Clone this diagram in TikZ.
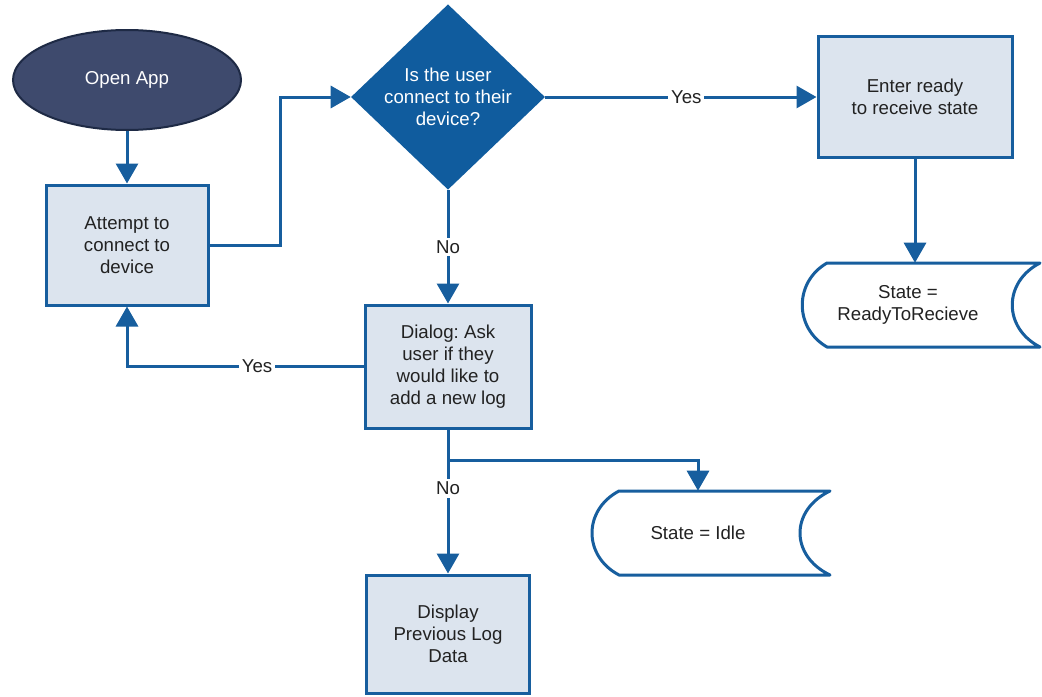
\documentclass[tikz,border=0pt]{standalone}
\usepackage{fontspec}
\setmainfont{Liberation Sans}
\usetikzlibrary{shapes.geometric,arrows.meta}
\definecolor{lineblue}{HTML}{175E9E}
\definecolor{boxfill}{HTML}{DCE4EE}
\definecolor{diafill}{HTML}{105C9E}
\definecolor{ovalfill}{HTML}{3E4A6D}
\definecolor{ovaldraw}{HTML}{1E2A45}
\definecolor{textdark}{HTML}{222222}
\frenchspacing
\begin{document}
\begin{tikzpicture}[x=0.75pt,y=-0.75pt,
  txt/.style={font=\fontsize{14}{16.5}\selectfont, align=center},
  box/.style={txt, draw=lineblue, fill=boxfill, line width=2.25pt, inner sep=0pt, text=textdark},
  conn/.style={draw=lineblue, line width=2.25pt, -{Triangle[width=16.5pt,length=15pt]}},
  lbl/.style={txt, fill=white, inner sep=2pt, text=textdark},
  storeline/.style={draw=lineblue, fill=white, line width=2.25pt, line join=round}
]
\path[use as bounding box, fill=white] (0,0) rectangle (1042,696);

% stored data outlines
\path[storeline] (827,263) -- (1040,263) .. controls (1003,282) and (1003,328) .. (1040,347)
  -- (827,347) .. controls (794,328) and (794,282) .. (827,263) -- cycle;
\path[storeline] (619,491) -- (830,491) .. controls (790,510) and (790,556) .. (830,575)
  -- (619,575) .. controls (583,556) and (583,510) .. (619,491) -- cycle;

\node[txt, ellipse, draw=ovaldraw, fill=ovalfill, line width=1.5pt, inner sep=0pt,
  minimum width=171pt, minimum height=75pt, text=white] (open) at (127,80) {Open App};
\node[box, minimum width=121.5pt, minimum height=90pt] (att) at (127,245) {Attempt to\\connect to\\device};
\node[txt, diamond, fill=diafill, inner sep=0pt, minimum width=145.5pt, minimum height=135pt,
  text=white] (dia) at (448,97) {Is the user\\connect to their\\device?};
\node[box, minimum width=145.5pt, minimum height=90.75pt] (enter) at (915,97) {Enter ready\\to receive state};
\node[txt, inner sep=0pt, minimum height=63pt, text=textdark] (sd1) at (908,305) {State =\\ReadyToRecieve};
\node[box, minimum width=124.5pt, minimum height=92.25pt] (dlg) at (448,366.5) {Dialog: Ask\\user if they\\would like to\\add a new log};
\node[txt, inner sep=0pt, minimum height=63pt, text=textdark] (idle) at (698,533) {State = Idle};
\node[box, minimum width=122pt, minimum height=88.5pt] (disp) at (448,634) {Display\\Previous Log\\Data};
\coordinate (br) at (448,460);

\draw[conn] (open.south) -- (att.north);
\draw[conn] (att.east) -- (280,245) |- (dia.west);
\draw[conn] (dia.east) -- node[lbl, pos=0.52] {Yes} (enter.west);
\draw[conn] (enter.south) -- (enter.south |- sd1.north);
\draw[conn] (dia.south) -- node[lbl] {No} (dlg.north);
\draw[conn] (dlg.west) -- node[lbl, pos=0.45] {Yes} (dlg.west -| att.south) -- (att.south);
\draw[conn] (dlg.south) -- node[lbl, pos=0.41] {No} (disp.north);
\draw[conn] (br) -| (idle.north);
\end{tikzpicture}
\end{document}
